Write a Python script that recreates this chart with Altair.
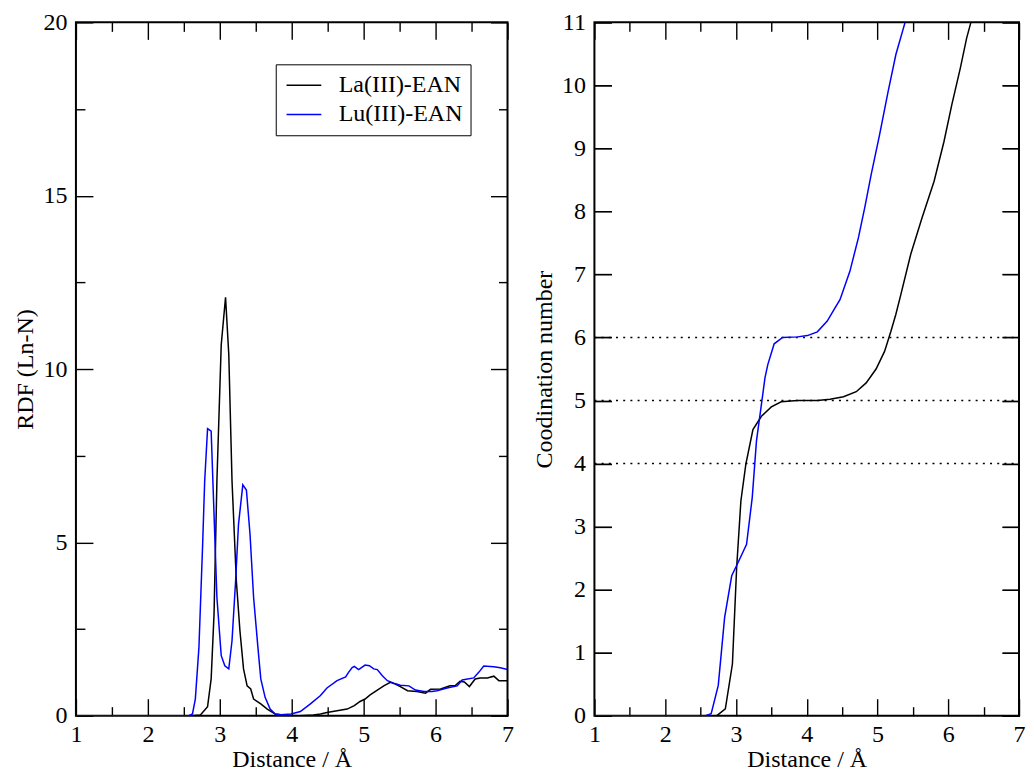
import altair as alt
import pandas as pd

FONT = "Liberation Serif"

# ---------------- data ----------------
la_rdf_x = [1.0, 2.6, 2.73, 2.83, 2.88, 2.92, 2.96, 3.02, 3.08, 3.125, 3.17, 3.23, 3.28, 3.33, 3.38,
            3.43, 3.47, 3.57, 3.66, 3.77, 3.9, 4.1, 4.3, 4.40, 4.49, 4.63, 4.77, 4.87, 4.95, 5.02,
            5.09, 5.19, 5.28, 5.37, 5.44, 5.51, 5.61, 5.74, 5.86, 5.93, 6.07, 6.20, 6.27, 6.34,
            6.40, 6.47, 6.55, 6.62, 6.72, 6.81, 6.88, 7.0]
la_rdf_y = [0, 0, 0.02, 0.26, 1.06, 2.93, 6.77, 10.7, 12.07, 10.42, 6.77, 3.89, 2.45, 1.35, 0.86,
            0.77, 0.48, 0.34, 0.19, 0.05, 0.01, 0.0, 0.02, 0.05, 0.09, 0.14, 0.19, 0.29, 0.41, 0.48,
            0.60, 0.74, 0.86, 0.96, 0.91, 0.84, 0.72, 0.70, 0.65, 0.76, 0.77, 0.86, 0.86, 0.99,
            0.97, 0.84, 1.06, 1.09, 1.09, 1.14, 1.01, 1.01]

lu_rdf_x = [1.0, 2.57, 2.62, 2.66, 2.71, 2.76, 2.79, 2.83, 2.88, 2.92, 2.96, 3.02, 3.07, 3.125,
            3.17, 3.22, 3.26, 3.32, 3.37, 3.42, 3.47, 3.53, 3.57, 3.63, 3.70, 3.77, 3.85, 3.99,
            4.12, 4.26, 4.40, 4.49, 4.63, 4.75, 4.79, 4.84, 4.87, 4.93, 5.02, 5.08, 5.14, 5.19,
            5.26, 5.33, 5.42, 5.51, 5.63, 5.72, 5.84, 5.95, 6.02, 6.16, 6.30, 6.37, 6.53, 6.60,
            6.67, 6.81, 6.90, 7.0]
lu_rdf_y = [0, 0, 0.05, 0.48, 1.97, 4.85, 6.77, 8.28, 8.21, 5.81, 3.41, 1.73, 1.44, 1.35,
            2.16, 3.89, 5.52, 6.66, 6.51, 5.24, 3.41, 1.97, 1.06, 0.53, 0.19, 0.05, 0.03, 0.05,
            0.12, 0.34, 0.58, 0.80, 1.01, 1.12, 1.25, 1.39, 1.42, 1.33, 1.46, 1.44, 1.35, 1.33,
            1.15, 1.01, 0.94, 0.88, 0.86, 0.74, 0.70, 0.70, 0.72, 0.80, 0.86, 1.03, 1.09, 1.25,
            1.43, 1.41, 1.38, 1.33]

la_cn_x = [1.0, 2.73, 2.85, 2.95, 3.01, 3.07, 3.14, 3.24, 3.36, 3.50, 3.64, 3.87, 4.15, 4.33,
           4.52, 4.70, 4.84, 4.98, 5.10, 5.19, 5.26, 5.33, 5.47, 5.63, 5.80, 5.94, 6.05, 6.17,
           6.26, 6.32]
la_cn_y = [0, 0, 0.11, 0.82, 2.35, 3.41, 3.99, 4.54, 4.75, 4.90, 4.98, 5.0, 5.0, 5.02,
           5.06, 5.14, 5.28, 5.5, 5.78, 6.10, 6.37, 6.68, 7.32, 7.90, 8.48, 9.11, 9.69, 10.27,
           10.75, 11.0]

lu_cn_x = [1.0, 2.57, 2.65, 2.75, 2.84, 2.94, 3.03, 3.15, 3.23, 3.29, 3.36, 3.41, 3.45, 3.54,
           3.66, 3.87, 4.01, 4.15, 4.29, 4.40, 4.47, 4.61, 4.73, 4.82, 4.91, 5.03, 5.15, 5.26,
           5.39]
lu_cn_y = [0, 0, 0.03, 0.48, 1.56, 2.22, 2.43, 2.72, 3.46, 4.36, 4.94, 5.36, 5.57, 5.90,
           6.0, 6.01, 6.03, 6.09, 6.26, 6.47, 6.60, 7.05, 7.58, 8.06, 8.58, 9.22, 9.90, 10.49,
           11.0]

series_names = ["La(III)-EAN", "Lu(III)-EAN"]
series_colors = ["#000000", "#0000ff"]

x_major = [1, 2, 3, 4, 5, 6, 7]
x_minor = [1.5, 2.5, 3.5, 4.5, 5.5, 6.5]
x_range = [1, 7]
rdf_range = [0, 20]
rdf_major = [0, 5, 10, 15, 20]
rdf_minor = [2.5, 7.5, 12.5, 17.5]
cn_range = [0, 11]
cn_major = list(range(0, 12))
cn_ref_lines = [4, 5, 6]

# ---------------- helpers ----------------
W_L, W_R, H = 432, 425, 694
MAJ, MIN = 17, 9          # tick lengths in pixels (ticks point into the plot)


def long_df(pairs):
    rows = []
    for name, xs, ys in pairs:
        for a, b in zip(xs, ys):
            rows.append({"x": a, "y": b, "series": name})
    return pd.DataFrame(rows)


def x_axis():
    # negative offset + outward ticks = inward ticks on the frame
    return alt.Axis(values=x_major, format="d", title="Distance / Å", labelFlush=False,
                    orient="bottom", offset=-MAJ, ticks=True, tickSize=MAJ, tickWidth=1.4,
                    tickColor="black", labelPadding=7, titlePadding=1, domain=False,
                    grid=False)


def y_axis(vals, title):
    return alt.Axis(values=vals, format="d", title=title, orient="left", offset=-MAJ,
                    ticks=True, tickSize=MAJ, tickWidth=1.4, tickColor="black",
                    labelPadding=9, titlePadding=5, domain=False, grid=False)


def tick_axis(orient, vals, ln):
    return alt.Axis(orient=orient, values=vals, offset=-ln, ticks=True, tickSize=ln,
                    tickWidth=1.4, tickColor="black", labels=False, title=None,
                    domain=False, grid=False)


def tick_carriers(df, xscale, yscale, ymaj, ymin):
    """Invisible layers that only carry the extra frame-tick axes."""
    ymin_vals, ymin_len = (ymin, MIN) if ymin else (ymaj, MAJ)
    specs = [
        (tick_axis("top", x_major, MAJ), tick_axis("right", ymaj, MAJ)),
        (tick_axis("bottom", x_minor, MIN), tick_axis("left", ymin_vals, ymin_len)),
        (tick_axis("top", x_minor, MIN), tick_axis("right", ymin_vals, ymin_len)),
    ]
    out = []
    for ax, ay in specs:
        out.append(alt.Chart(df).mark_line(opacity=0).encode(
            x=alt.X("x:Q", scale=xscale, axis=ax),
            y=alt.Y("y:Q", scale=yscale, axis=ay),
            detail="series:N"))
    return out


# ---------------- left panel: RDF ----------------
xs_l = alt.Scale(domain=x_range, nice=False, zero=False)
ys_l = alt.Scale(domain=rdf_range, nice=False)
rdf_df = long_df([(series_names[0], la_rdf_x, la_rdf_y), (series_names[1], lu_rdf_x, lu_rdf_y)])
RDF_T = "RDF (Ln-N)"

rdf_lines = alt.Chart(rdf_df).mark_line(strokeWidth=1.5, clip=True).encode(
    x=alt.X("x:Q", scale=xs_l, axis=x_axis()),
    y=alt.Y("y:Q", scale=ys_l, axis=y_axis(rdf_major, RDF_T)),
    color=alt.Color("series:N", scale=alt.Scale(domain=series_names, range=series_colors),
                    legend=alt.Legend(title=None, orient="none", legendX=200, legendY=42,
                                      strokeColor="black", padding=8, rowPadding=4.2,
                                      symbolType="M-0.85,0H2.05", symbolSize=576,
                                      symbolStrokeWidth=1.5, labelOffset=29,
                                      labelFont=FONT, labelFontSize=24, labelColor="black",
                                      labelLimit=400)),
    order=alt.Order("x:Q"),
)

left = alt.layer(rdf_lines, *tick_carriers(rdf_df, xs_l, ys_l, rdf_major, rdf_minor)
                 ).resolve_axis(x="independent", y="independent").properties(
    width=W_L, height=H)

# ---------------- right panel: coordination number ----------------
xs_r = alt.Scale(domain=x_range, nice=False, zero=False)
ys_r = alt.Scale(domain=cn_range, nice=False)
cn_df = long_df([(series_names[0], la_cn_x, la_cn_y), (series_names[1], lu_cn_x, lu_cn_y)])
CN_T = "Coodination number"

cn_lines = alt.Chart(cn_df).mark_line(strokeWidth=1.5, clip=True).encode(
    x=alt.X("x:Q", scale=xs_r, axis=x_axis()),
    y=alt.Y("y:Q", scale=ys_r, axis=y_axis(cn_major, CN_T)),
    color=alt.Color("series:N", scale=alt.Scale(domain=series_names, range=series_colors),
                    legend=None),
    order=alt.Order("x:Q"),
)

ref = alt.Chart(pd.DataFrame({"ry": cn_ref_lines})).mark_rule(
    color="black", strokeWidth=1.4, strokeDash=[2, 5.2]).encode(
    y=alt.Y("ry:Q", scale=ys_r, axis=y_axis(cn_major, CN_T)),
    x=alt.datum(x_range[0]), x2=alt.datum(x_range[1]))

right = alt.layer(alt.layer(ref, cn_lines),
                  *tick_carriers(cn_df, xs_r, ys_r, cn_major, [])
                  ).resolve_axis(x="independent", y="independent").properties(
    width=W_R, height=H)

chart = alt.hconcat(left, right, spacing=17).resolve_scale(
    color="independent").resolve_legend(color="independent").properties(
    padding={"left": 5, "top": 1, "right": 0, "bottom": 0}
).configure_view(stroke="black", strokeWidth=2).configure_axis(
    labelFont=FONT, labelFontSize=24, labelColor="black",
    titleFont=FONT, titleFontSize=24, titleFontWeight="normal", titleColor="black",
)

chart.save("out.html", embed_options={"renderer": "svg", "actions": False})
